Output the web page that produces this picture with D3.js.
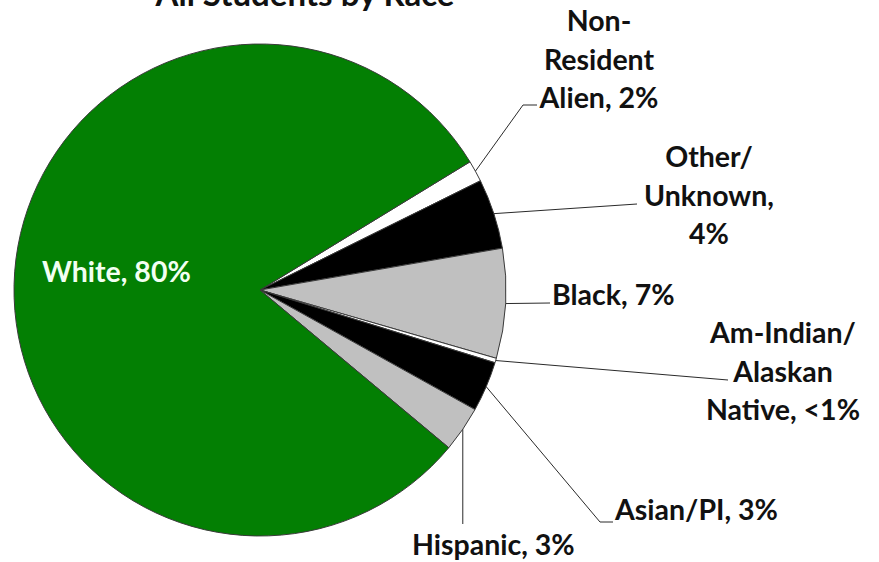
<!DOCTYPE html>
<html>
<head>
<meta charset="utf-8">
<script src="https://cdn.jsdelivr.net/npm/d3@7"></script>
<style>
  html, body { margin: 0; padding: 0; background: #fff; }
  svg { display: block; }
  text { font-family: "Lato", "Open Sans", sans-serif; font-weight: bold; }
</style>
</head>
<body>
<svg id="chart" width="879" height="562"></svg>
<script>
// ---- data ----
const title = "All Students by Race";
const categories = ["Non-Resident Alien", "Other/Unknown", "Black", "Am-Indian/Alaskan Native", "Asian/PI", "Hispanic", "White"];
const values = [1.4, 4.6, 7.2, 0.3, 3.3, 3.0, 80.2];
const labelLines = [
  ["Non-", "Resident", "Alien, 2%"],
  ["Other/", "Unknown,", "4%"],
  ["Black, 7%"],
  ["Am-Indian/", "Alaskan", "Native, <1%"],
  ["Asian/PI, 3%"],
  ["Hispanic, 3%"],
  ["White, 80%"]
];

// ---- layout / style ----
const W = 879, H = 562;
const cx = 260, cy = 290, R = 246;
const startDeg = 58.6;
const fills = ["#ffffff", "#000000", "#c0c0c0", "#ffffff", "#000000", "#c0c0c0", "#037f03"];
const fontSize = 28.5, lineH = 38.5;
// label block: anchor x, first baseline y, text-anchor ; leader: bend points after the arc point
const labelLayout = [
  {x: 599, y: 31, anchor: "middle", leader: [[523, 105], [537, 105]]},
  {x: 709, y: 167, anchor: "middle", leader: [[637, 204]]},
  {x: 552, y: 305, anchor: "start", leader: [[550, 303]]},
  {x: 783, y: 343, anchor: "middle", leader: [[728, 380]]},
  {x: 615, y: 520, anchor: "start", leader: [[600, 522], [613, 522]]},
  {x: 412, y: 555, anchor: "start", leader: [[null, 524]]},
  {x: 42, y: 282, anchor: "start", leader: null, color: "#f2fff2"}
];

const svg = d3.select("#chart");
const g = svg.append("g").attr("transform", `translate(${cx},${cy})`);

const data = categories.map((c, i) => ({name: c, value: values[i], i}));
const a0 = startDeg * Math.PI / 180;
const pie = d3.pie().sort(null).value(d => d.value).startAngle(a0).endAngle(a0 + 2 * Math.PI);
const arcs = pie(data);
const arc = d3.arc().innerRadius(0).outerRadius(R);

g.selectAll("path.slice").data(arcs).join("path")
  .attr("class", "slice")
  .attr("d", arc)
  .attr("fill", d => fills[d.data.i])
  .attr("stroke", "#3a3a3a")
  .attr("stroke-width", 1)
  .attr("stroke-linejoin", "round");

// leader lines
arcs.forEach(d => {
  const L = labelLayout[d.data.i];
  if (!L.leader) return;
  const mid = (d.startAngle + d.endAngle) / 2;
  const px = cx + R * Math.sin(mid), py = cy - R * Math.cos(mid);
  const pts = [[px, py]].concat(L.leader.map(p => [p[0] === null ? px : p[0], p[1]]));
  svg.append("path")
    .attr("d", d3.line()(pts))
    .attr("fill", "none")
    .attr("stroke", "#2a2a2a")
    .attr("stroke-width", 1);
});

// labels
labelLayout.forEach((L, i) => {
  const t = svg.append("text")
    .attr("x", L.x).attr("y", L.y)
    .attr("text-anchor", L.anchor)
    .attr("font-size", fontSize)
    .attr("fill", L.color || "#111");
  labelLines[i].forEach((line, k) => {
    t.append("tspan").attr("x", L.x).attr("y", L.y + k * lineH).text(line);
  });
});

// title (cut at top, as in the reference)
svg.append("text")
  .attr("x", 305).attr("y", 6)
  .attr("text-anchor", "middle")
  .attr("font-size", 33)
  .attr("fill", "#111")
  .text(title);
</script>
</body>
</html>
